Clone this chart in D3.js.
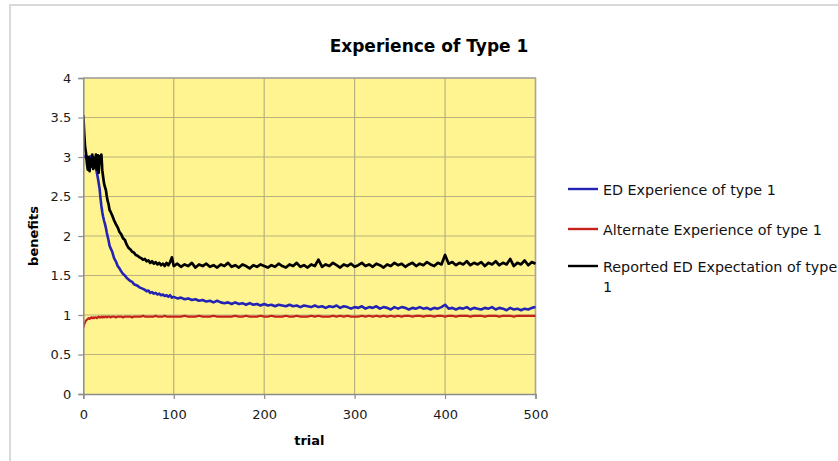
<!DOCTYPE html>
<html>
<head>
<meta charset="utf-8">
<script src="https://cdn.jsdelivr.net/npm/d3@7"></script>
<style>
  html, body { margin: 0; padding: 0; background: #fff; }
  svg { display: block; }
  text { font-family: "DejaVu Sans", Verdana, sans-serif; }
</style>
</head>
<body>
<svg id="chart" width="838" height="461"></svg>
<script>
// ---------------- data ----------------
const title = "Experience of Type 1";
const xLabel = "trial";
const yLabel = "benefits";

const xTicks = [0, 100, 200, 300, 400, 500];
const xTickLabels = ["0", "100", "200", "300", "400", "500"];
const yTicks = [0, 0.5, 1, 1.5, 2, 2.5, 3, 3.5, 4];
const yTickLabels = ["0", "0.5", "1", "1.5", "2", "2.5", "3", "3.5", "4"];

const seriesNames = ["ED Experience of type 1", "Alternate Experience of type 1", "Reported ED Expectation of type 1"];

// trial numbers of the sampled points
const trials = [].concat(d3.range(0, 31, 1), d3.range(32, 101, 2), d3.range(104, 501, 4));

const edExperience = [
  3.00,3.01,3.00,2.99,3.01,3.00,2.99,3.00,3.01,2.99,3.00,2.98,2.96,
  2.92,2.86,2.80,2.74,2.67,2.60,2.48,2.38,2.30,2.24,2.19,2.15,2.10,2.04,1.99,1.94,1.88,1.85,
  1.80,1.72,1.68,1.62,1.59,1.55,1.52,1.50,1.47,1.45,
  1.43,1.42,1.39,1.38,1.37,1.35,1.34,1.33,1.32,1.30,
  1.31,1.28,1.29,1.27,1.28,1.26,1.27,1.25,1.26,1.24,
  1.25,1.23,1.25,1.22,1.23,
  1.21,1.22,1.20,1.21,1.19,1.20,1.18,1.19,1.17,1.18,
  1.16,1.18,1.16,1.15,1.16,1.14,1.16,1.14,1.15,1.13,
  1.15,1.13,1.14,1.12,1.14,1.12,1.13,1.11,1.13,1.12,
  1.11,1.13,1.11,1.12,1.10,1.12,1.11,1.10,1.12,1.10,
  1.11,1.09,1.11,1.10,1.12,1.09,1.11,1.10,1.08,1.10,
  1.09,1.11,1.08,1.10,1.09,1.11,1.08,1.10,1.09,1.07,
  1.10,1.08,1.10,1.09,1.07,1.09,1.08,1.10,1.08,1.09,
  1.07,1.09,1.08,1.10,1.13,1.08,1.09,1.07,1.09,1.08,
  1.10,1.07,1.09,1.08,1.07,1.09,1.08,1.10,1.07,1.09,
  1.08,1.06,1.09,1.07,1.08,1.06,1.08,1.07,1.09,1.10
];

const alternateExperience = [
  0.84,0.88,0.91,0.93,0.94,0.95,0.96,0.95,0.96,0.97,0.96,0.97,0.96,0.97,0.97,0.96,
  0.97,0.98,0.97,0.97,0.98,0.97,0.98,0.97,0.98,0.98,0.97,0.98,0.98,0.98,0.97,
  0.98,0.98,0.97,0.98,0.98, 0.98,0.97,0.98,0.98,0.98, 0.98,0.97,0.98,0.98,0.98,
  0.98,0.98,0.99,0.98,0.98, 0.98,0.98,0.98,0.98,0.99, 0.98,0.98,0.98,0.98,0.99,
  0.98,0.98,0.98,0.98,0.98,
  0.98,0.98,0.99,0.98,0.98, 0.98,0.99,0.98,0.98,0.98, 0.99,0.98,0.98,0.98,0.98,
  0.98,0.99,0.98,0.98,0.99, 0.98,0.98,0.98,0.99,0.98, 0.98,0.99,0.98,0.98,0.98,
  0.99,0.98,0.98,0.99,0.98, 0.98,0.98,0.99,0.98,0.99, 0.98,0.98,0.98,0.99,0.98,
  0.99,0.98,0.99,0.98,0.98, 0.98,0.99,0.98,0.99,0.98, 0.99,0.98,0.99,0.98,0.99,
  0.98,0.99,0.98,0.99,0.99, 0.98,0.99,0.99,0.98,0.99, 0.99,0.98,0.99,0.99,0.98,
  0.99,0.99,0.98,0.99,0.99, 0.99,0.98,0.99,0.99,0.99, 0.98,0.99,0.99,0.99,0.98,
  0.99,0.99,0.99,0.98,0.99, 0.99,0.99,0.99,0.99,0.99
];

const reportedExpectation = [
  3.53,3.30,3.12,3.05,2.92,2.84,3.00,2.82,2.97,2.88,3.03,2.85,2.99,2.87,3.03,2.84,
  3.02,2.80,3.01,2.93,3.03,2.83,2.74,2.66,2.62,2.58,2.50,2.44,2.40,2.33,2.31,
  2.26,2.20,2.15,2.11,2.05,2.02,1.97,1.95,1.89,1.85,
  1.83,1.80,1.79,1.76,1.75,1.73,1.72,1.70,1.71,1.68,
  1.69,1.66,1.68,1.65,1.67,1.64,1.66,1.63,1.65,1.62,
  1.66,1.63,1.67,1.73,1.62,
  1.65,1.61,1.64,1.62,1.66,1.60,1.64,1.62,1.65,1.61,
  1.63,1.60,1.64,1.62,1.66,1.61,1.63,1.60,1.64,1.62,
  1.59,1.63,1.61,1.64,1.62,1.60,1.63,1.61,1.65,1.62,
  1.60,1.64,1.62,1.66,1.61,1.63,1.60,1.64,1.62,1.70,
  1.61,1.64,1.62,1.66,1.63,1.60,1.64,1.62,1.65,1.61,
  1.63,1.66,1.62,1.64,1.61,1.65,1.63,1.60,1.64,1.62,
  1.66,1.63,1.65,1.61,1.64,1.66,1.62,1.65,1.63,1.67,
  1.64,1.62,1.66,1.64,1.76,1.65,1.67,1.63,1.66,1.64,
  1.68,1.63,1.66,1.64,1.67,1.62,1.66,1.64,1.68,1.63,
  1.66,1.64,1.71,1.62,1.66,1.64,1.69,1.63,1.67,1.65
];

const seriesColors = ["#2424b4", "#c4221c", "#000000"];

// ---------------- drawing ----------------
const svg = d3.select("#chart");

// outer chart frame
svg.append("rect")
  .attr("x", 10).attr("y", 5).attr("width", 860).attr("height", 480)
  .attr("fill", "#fff").attr("stroke", "#d9d9d9").attr("stroke-width", 2);

const plot = { left: 83.3, right: 535.5, top: 78, bottom: 394 };

const x = d3.scaleLinear().domain([0, 500]).range([plot.left, plot.right]);
const y = d3.scaleLinear().domain([0, 4]).range([plot.bottom, plot.top]);

// plot background
svg.append("rect")
  .attr("x", x(0)).attr("y", y(4))
  .attr("width", x(500) - x(0)).attr("height", y(0) - y(4))
  .attr("fill", "#fff48f");

// gridlines
svg.append("g").selectAll("line").data(yTicks.filter(d => d > 0)).join("line")
  .attr("x1", x(0)).attr("x2", x(500))
  .attr("y1", d => y(d)).attr("y2", d => y(d))
  .attr("stroke", "#b8b17e").attr("stroke-width", 1.2);
svg.append("g").selectAll("line").data(xTicks.filter(d => d > 0)).join("line")
  .attr("y1", y(0)).attr("y2", y(4))
  .attr("x1", d => x(d)).attr("x2", d => x(d))
  .attr("stroke", "#b8b17e").attr("stroke-width", 1.2);

// plot frame (top and right)
svg.append("path")
  .attr("d", `M${x(0)},${y(4)}H${x(500)}V${y(0)}`)
  .attr("fill", "none").attr("stroke", "#a5a5a5").attr("stroke-width", 1.5);

// series lines
const series = [edExperience, alternateExperience, reportedExpectation];
const widths = [2.6, 2.2, 2.7];
const line = d3.line().x(d => x(d[0])).y(d => y(d[1]));
const clipId = "plotclip";
svg.append("clipPath").attr("id", clipId).append("rect")
  .attr("x", x(0)).attr("y", y(4) - 2).attr("width", x(500) - x(0) + 2).attr("height", y(0) - y(4) + 4);
const lineOrder = [1, 0, 2];
lineOrder.forEach(i => {
  const vals = series[i];
  const n = Math.min(vals.length, trials.length);
  const pts = d3.range(n).map(k => [trials[k], vals[k]]);
  svg.append("path")
    .attr("d", line(pts))
    .attr("fill", "none")
    .attr("stroke", seriesColors[i])
    .attr("stroke-width", widths[i])
    .attr("stroke-linejoin", "round")
    .attr("clip-path", `url(#${clipId})`);
});

// axes
const xAxis = d3.axisBottom(x).tickValues(xTicks).tickFormat((d, i) => xTickLabels[i])
  .tickSize(5).tickPadding(11);
const yAxis = d3.axisLeft(y).tickValues(yTicks).tickFormat((d, i) => yTickLabels[i])
  .tickSize(5).tickPadding(7);

const gx = svg.append("g").attr("transform", `translate(0,${y(0)})`).call(xAxis);
const gy = svg.append("g").attr("transform", `translate(${x(0)},0)`).call(yAxis);
[gx, gy].forEach(g => {
  g.select(".domain").attr("stroke", "#8c8c8c").attr("stroke-width", 1.5);
  g.selectAll(".tick line").attr("stroke", "#8c8c8c").attr("stroke-width", 1.2);
  g.selectAll(".tick text")
    .attr("fill", "#1a1a1a")
    .style("font-family", "'DejaVu Sans', Verdana, sans-serif")
    .style("font-size", "13px");
});

// titles
svg.append("text")
  .attr("x", 429).attr("y", 52)
  .attr("text-anchor", "middle")
  .style("font-size", "17px").style("font-weight", "bold")
  .attr("fill", "#000")
  .text(title);

svg.append("text")
  .attr("x", (x(0) + x(500)) / 2).attr("y", 445)
  .attr("text-anchor", "middle")
  .style("font-size", "13px").style("font-weight", "bold")
  .text(xLabel);

svg.append("text")
  .attr("transform", `translate(38,${(y(0) + y(4)) / 2}) rotate(-90)`)
  .attr("text-anchor", "middle")
  .style("font-size", "13px").style("font-weight", "bold")
  .text(yLabel);

// legend
const legendRows = [
  { name: seriesNames[0], color: seriesColors[0], y: 190 },
  { name: seriesNames[1], color: seriesColors[1], y: 230 }
];
const lg = svg.append("g");
legendRows.forEach(r => {
  lg.append("line").attr("x1", 568).attr("x2", 598).attr("y1", r.y - 1).attr("y2", r.y - 1)
    .attr("stroke", r.color).attr("stroke-width", 2.4);
  lg.append("text").attr("x", 603).attr("y", r.y + 5)
    .style("font-size", "14.3px").attr("fill", "#111").text(r.name);
});
// third entry wraps onto two lines
const words = seriesNames[2].split(" ");
lg.append("line").attr("x1", 568).attr("x2", 598).attr("y1", 266).attr("y2", 266)
  .attr("stroke", seriesColors[2]).attr("stroke-width", 2.4);
const t3 = lg.append("text").attr("x", 603).attr("y", 272)
  .style("font-size", "14.3px").attr("fill", "#111");
t3.append("tspan").attr("x", 603).attr("dy", 0).text(words.slice(0, -1).join(" "));
t3.append("tspan").attr("x", 603).attr("dy", 20).text(words[words.length - 1]);
</script>
</body>
</html>
